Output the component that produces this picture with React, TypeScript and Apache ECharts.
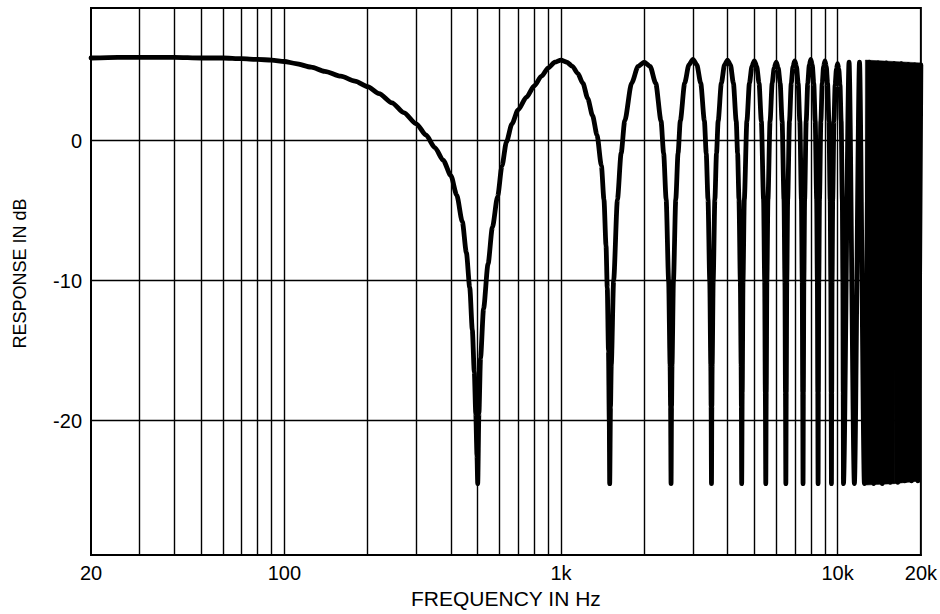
import React, { useEffect, useRef } from "react";
import * as echarts from "echarts";

// Response readings [frequency Hz, response dB]
const lowBand: [number, number][] = [
  [20, 5.9], [25, 5.95], [30, 5.95], [40, 5.95], [50, 5.9], [60, 5.9], [70, 5.85], [80, 5.8],
  [90, 5.75], [100, 5.65], [110, 5.5], [125, 5.25], [140, 4.95], [160, 4.6], [180, 4.25],
  [200, 3.85], [220, 3.35], [245, 2.7], [270, 2.0], [300, 1.2], [325, 0.4], [350, -0.5],
  [375, -1.4], [400, -2.5], [420, -3.9], [440, -5.8], [455, -8.0], [468, -10.5], [478, -13.5],
  [486, -16.5], [492, -19.5], [497, -22.5], [500, -24.5],
];

const lobes1to4: [number, number][] = [
  [505, -19.5], [512, -15.5], [525, -12], [545, -8.8], [565, -6.2], [590, -4.0], [612, -1.8],
  [635, -0.1], [665, 1.2], [700, 2.2], [750, 3.1], [800, 3.9], [850, 4.6], [900, 5.2], [950, 5.6],
  [1000, 5.75], [1050, 5.6], [1100, 5.3], [1150, 4.8], [1200, 4.1], [1250, 3.0], [1300, 1.8],
  [1350, 0.4], [1400, -1.8], [1430, -4.2], [1455, -7.5], [1470, -10.5], [1485, -15], [1495, -20],
  [1500, -24.5],
  [1510, -19], [1520, -16], [1550, -10], [1600, -4.2], [1650, -0.9], [1700, 1.4], [1800, 4.1],
  [1900, 5.3], [2000, 5.6], [2100, 5.3], [2200, 4.1], [2300, 1.4], [2350, -0.9], [2400, -4.2],
  [2450, -10], [2480, -16], [2490, -19], [2500, -24.5],
  [2510, -19], [2520, -16], [2550, -10], [2600, -4.2], [2650, -0.9], [2700, 1.4], [2800, 4.1],
  [2900, 5.4], [3000, 5.8], [3100, 5.4], [3200, 4.1], [3300, 1.4], [3350, -0.9], [3400, -4.2],
  [3450, -10], [3480, -16], [3490, -19], [3500, -24.5],
  [3510, -19], [3520, -16], [3550, -10], [3600, -4.2], [3650, -0.9], [3700, 1.4], [3800, 4.1],
  [3900, 5.4], [4000, 5.75], [4100, 5.4], [4200, 4.1], [4300, 1.4], [4350, -0.9], [4400, -4.2],
  [4450, -10], [4480, -16], [4490, -19], [4500, -24.5],
];

const lobes5to10: [number, number][] = [
  [4520, -18], [4550, -10], [4600, -4.2], [4700, 1.4], [4800, 4.1], [4900, 5.3], [5000, 5.7],
  [5100, 5.3], [5200, 4.1], [5300, 1.4], [5400, -4.2], [5450, -10], [5480, -18], [5500, -24.5],
  [5520, -18], [5550, -10], [5600, -4.2], [5700, 1.4], [5800, 4.1], [5900, 5.2], [6000, 5.6],
  [6100, 5.2], [6200, 4.1], [6300, 1.4], [6400, -4.2], [6450, -10], [6480, -18], [6500, -24.5],
  [6520, -18], [6550, -10], [6600, -4.2], [6700, 1.4], [6800, 4.1], [6900, 5.3], [7000, 5.7],
  [7100, 5.3], [7200, 4.1], [7300, 1.4], [7400, -4.2], [7450, -10], [7480, -18], [7500, -24.5],
  [7520, -18], [7550, -10], [7600, -4.2], [7700, 1.4], [7800, 4.1], [7900, 5.4], [8000, 5.8],
  [8100, 5.4], [8200, 4.1], [8300, 1.4], [8400, -4.2], [8450, -10], [8480, -18], [8500, -24.5],
  [8520, -18], [8550, -10], [8600, -4.2], [8700, 1.4], [8800, 4.1], [8900, 5.3], [9000, 5.7],
  [9100, 5.3], [9200, 4.1], [9300, 1.4], [9400, -4.2], [9450, -10], [9480, -18], [9500, -24.5],
  [9520, -18], [9550, -10], [9600, -4.2], [9700, 1.4], [9800, 4.0], [9900, 5.1], [10000, 5.5],
  [10100, 5.1], [10200, 4.0], [10300, 1.4], [10400, -4.2], [10450, -10], [10480, -18], [10500, -24.5],
];

const denseBand: [number, number][] = [
  [11000, 5.6], [11500, -24.5], [12000, 5.6], [12500, -24.5], [13000, 5.6], [13500, -24.5],
  [14000, 5.55], [14500, -24.5], [15000, 5.55], [15500, -24.4], [16000, 5.5], [16500, -24.4],
  [17000, 5.5], [17500, -24.3], [18000, 5.45], [18500, -24.3], [19000, 5.4], [19500, -24.3],
  [20000, 5.4],
];

// Solid black band where the lobes merge (12.6 kHz – 20 kHz)
const solidHz = [12600, 16000, 20000];
const solidTopDb = [5.75, 5.65, 5.55];
const solidBottomDb = [-24.6, -24.5, -24.3];

const gridHz = [
  30, 40, 50, 60, 70, 80, 90, 100,
  200, 300, 400, 500, 600, 700, 800, 900, 1000,
  2000, 3000, 4000, 5000, 6000, 7000, 8000, 9000, 10000,
];
const gridDb = [0, -10, -20];
const yTickLabels = [0, -10, -20];

const FONT = "'Liberation Sans', Arial, Helvetica, sans-serif";

export default function App() {
  const ref = useRef<HTMLDivElement>(null);

  useEffect(() => {
    if (!ref.current) return;
    const chart = echarts.init(ref.current, null, { renderer: "svg" });
    const curve = [...lowBand, ...lobes1to4, ...lobes5to10, ...denseBand];

    chart.setOption({
      animation: false,
      backgroundColor: "#ffffff",
      grid: {
        left: 91,
        right: 17,
        top: 8,
        bottom: 57,
        show: true,
        borderColor: "#000",
        borderWidth: 2,
        backgroundColor: "transparent",
      },
      xAxis: {
        type: "log",
        logBase: 10,
        min: 20,
        max: 20000,
        axisLine: { show: true, onZero: false, lineStyle: { color: "#000", width: 2 } },
        axisTick: { show: false },
        splitLine: { show: false },
        minorTick: { show: false },
        minorSplitLine: { show: false },
        axisLabel: {
          color: "#000",
          fontSize: 20,
          fontFamily: FONT,
          margin: 8,
          showMinLabel: true,
          showMaxLabel: true,
          formatter: (v: number) =>
            v >= 1000 ? `${Math.round(v / 1000)}k` : String(Math.round(v)),
        },
        name: "FREQUENCY IN Hz",
        nameLocation: "middle",
        nameGap: 31,
        nameTextStyle: { color: "#000", fontSize: 21, fontFamily: FONT },
      },
      yAxis: {
        type: "value",
        min: -29.6,
        max: 9.47,
        axisLine: { show: true, onZero: false, lineStyle: { color: "#000", width: 2 } },
        axisTick: { show: false, customValues: yTickLabels },
        splitLine: { show: false },
        axisLabel: {
          customValues: yTickLabels,
          color: "#000",
          fontSize: 20,
          fontFamily: FONT,
          margin: 9,
        },
        name: "RESPONSE IN dB",
        nameLocation: "middle",
        nameGap: 62,
        nameTextStyle: { color: "#000", fontSize: 18, fontFamily: FONT, padding: [0, 0, 0, 16] },
      },
      series: [
        {
          type: "line",
          data: [],
          z: 1,
          silent: true,
          markLine: {
            silent: true,
            symbol: ["none", "none"],
            label: { show: false },
            lineStyle: { color: "#000", width: 1.4, type: "solid" },
            emphasis: { disabled: true },
            data: [
              ...gridHz.map((v) => ({ xAxis: v })),
              ...gridDb.map((v) => ({ yAxis: v })),
            ],
          },
        },
        {
          type: "line",
          data: curve,
          z: 3,
          silent: true,
          showSymbol: false,
          symbol: "none",
          clip: true,
          smooth: 0.25,
          smoothMonotone: "x",
          lineStyle: { color: "#000", width: 4.8, join: "round", cap: "round" },
        },
        {
          type: "custom",
          z: 4,
          silent: true,
          clip: true,
          data: solidHz.map((hz, i) => [hz, solidTopDb[i], solidBottomDb[i]]),
          encode: { x: 0, y: [1, 2] },
          renderItem: (params: any, api: any) => {
            const i = params.dataIndex;
            if (i >= solidHz.length - 1) return null;
            const p1 = api.coord([solidHz[i], solidTopDb[i]]);
            const p2 = api.coord([solidHz[i + 1], solidTopDb[i + 1]]);
            const p3 = api.coord([solidHz[i + 1], solidBottomDb[i + 1]]);
            const p4 = api.coord([solidHz[i], solidBottomDb[i]]);
            return {
              type: "polygon",
              shape: { points: [p1, p2, p3, p4] },
              style: { fill: "#000", stroke: "#000", lineWidth: 0.5 },
            };
          },
        },
      ],
    });

    return () => chart.dispose();
  }, []);

  return (
    <div
      ref={ref}
      style={{ position: "fixed", left: 0, top: 0, width: 940, height: 614, background: "#fff" }}
    />
  );
}
